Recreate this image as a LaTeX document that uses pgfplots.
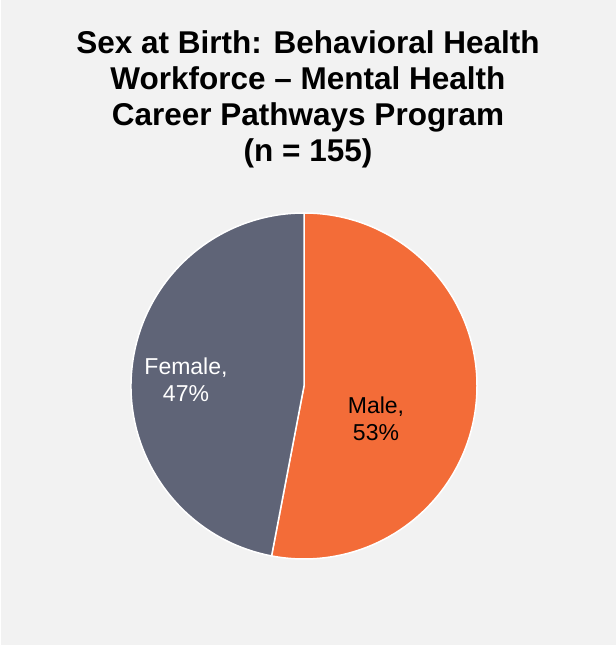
\documentclass[border=0pt]{standalone}
\usepackage{pgfplots}
\usepackage{pgfplotstable}
\pgfplotsset{compat=1.18}
\usepackage{fontspec}
\setmainfont{Liberation Sans}
\definecolor{bgc}{HTML}{F2F2F2}
\definecolor{malec}{HTML}{F36C38}
\definecolor{femc}{HTML}{5F6477}

\pgfplotstableread{
label value
Male 53
Female 47
}\piedata

\begin{document}
\begin{tikzpicture}
\pgfplotstablegetelem{0}{value}\of\piedata \let\vmale\pgfplotsretval
\pgfplotstablegetelem{1}{value}\of\piedata \let\vfem\pgfplotsretval
\pgfmathsetmacro{\aend}{90-3.6*\vmale}
\pgfmathsetmacro{\fend}{\aend-3.6*\vfem}
\begin{axis}[
  scale only axis, width=616bp, height=645bp,
  xmin=-304, xmax=312, ymin=-259, ymax=386,
  hide axis, clip=false,
]
\fill[white] (axis cs:-304,-259) rectangle (axis cs:312,386);
\fill[bgc] (axis cs:-303,-259) rectangle (axis cs:312,386);
\filldraw[fill=malec, draw=white, line width=1.5bp]
  (axis cs:0,0) -- ++(90:173bp) arc[start angle=90, end angle=\aend, radius=173bp] -- cycle;
\filldraw[fill=femc, draw=white, line width=1.5bp]
  (axis cs:0,0) -- ++(\aend:173bp) arc[start angle=\aend, end angle=\fend, radius=173bp] -- cycle;
\node[anchor=north, align=center, inner sep=0pt,
      font=\fontsize{31.5bp}{36bp}\selectfont\bfseries]
  at (axis cs:4,356) {Sex at Birth: Behavioral Health\\Workforce -- Mental Health\\Career Pathways Program\\(n = 155)};
\node[align=center, inner sep=0pt, text=white,
      font=\fontsize{23bp}{27bp}\selectfont]
  at (axis cs:-118,6.5) {Female,\\\vfem\%};
\node[align=center, inner sep=0pt, text=black,
      font=\fontsize{23bp}{26.5bp}\selectfont]
  at (axis cs:72,-33) {Male,\\\vmale\%};
\end{axis}
\end{tikzpicture}
\end{document}
